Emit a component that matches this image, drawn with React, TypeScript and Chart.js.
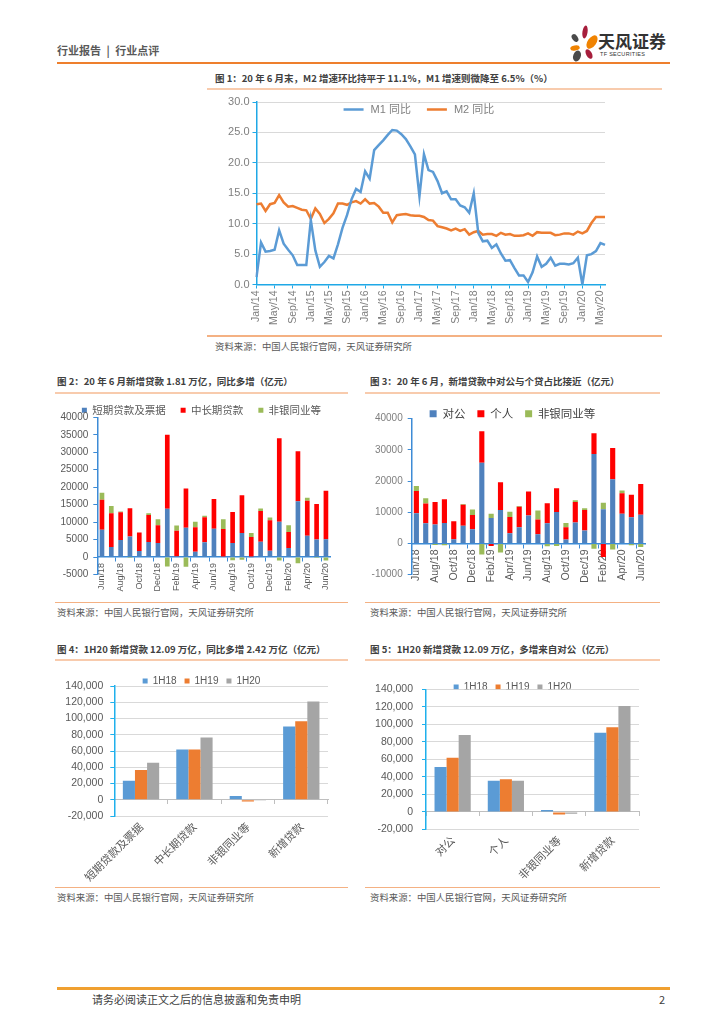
import React, { useEffect, useRef } from 'react';
import { Chart, registerables } from 'chart.js';

Chart.register(...registerables);

const LATIN = "'Liberation Sans', 'Noto Sans CJK SC', sans-serif";
const CJK = "'Noto Sans CJK SC', 'Liberation Sans', sans-serif";
Chart.defaults.font.family = LATIN;

// ---------------- Chart 1: M1 / M2 yoy ----------------
const MONTH_NAMES = ['Jan', 'Feb', 'Mar', 'Apr', 'May', 'Jun', 'Jul', 'Aug', 'Sep', 'Oct', 'Nov', 'Dec'];
const YEAR_SUFFIXES = ['14', '15', '16', '17', '18', '19', '20'];
const M_CATEGORIES = YEAR_SUFFIXES.flatMap((y) => MONTH_NAMES.map((m) => `${m}/${y}`)).slice(0, 78);
const M1_YOY = [
  1.2, 6.9, 5.4, 5.5, 5.7, 8.9, 6.7, 5.7, 4.8, 3.2, 3.2, 3.2,
  10.6, 5.6, 2.9, 3.7, 4.7, 4.3, 6.6, 9.3, 11.4, 14.0, 15.7, 15.2,
  18.6, 17.4, 22.1, 22.9, 23.7, 24.6, 25.4, 25.3, 24.7, 23.9, 22.7, 21.4,
  14.5, 21.4, 18.8, 18.5, 17.0, 15.0, 15.3, 14.0, 14.0, 13.0, 12.7, 11.8,
  15.0, 8.5, 7.1, 7.2, 6.0, 6.6, 5.1, 3.9, 4.0, 2.7, 1.5, 1.5,
  0.4, 2.0, 4.6, 2.9, 3.4, 4.4, 3.1, 3.4, 3.4, 3.3, 3.5, 4.4,
  0.0, 4.8, 5.0, 5.5, 6.8, 6.5,
];
const M2_YOY = [
  13.2, 13.3, 12.1, 13.2, 13.4, 14.7, 13.5, 12.8, 12.9, 12.6, 12.3, 12.2,
  10.8, 12.5, 11.6, 10.1, 10.8, 11.7, 13.3, 13.3, 13.1, 13.5, 13.7, 13.3,
  14.0, 13.3, 13.4, 12.8, 11.8, 11.8, 10.2, 11.4, 11.5, 11.6, 11.4, 11.3,
  11.3, 11.1, 10.6, 10.5, 9.6, 9.4, 9.2, 8.9, 9.2, 8.8, 9.1, 8.2,
  8.6, 8.8, 8.2, 8.3, 8.3, 8.0, 8.5, 8.2, 8.3, 8.0, 8.0, 8.1,
  8.4, 8.0, 8.6, 8.5, 8.5, 8.5, 8.1, 8.2, 8.4, 8.4, 8.2, 8.7,
  8.4, 8.8, 10.1, 11.1, 11.1, 11.1,
];
const M_SERIES_NAMES = ['M1 同比', 'M2 同比'];

// ---------------- Chart 2 / 3: monthly new loans ----------------
const LOAN_MONTHS = [
  'Jun/18', 'Jul/18', 'Aug/18', 'Sep/18', 'Oct/18', 'Nov/18', 'Dec/18',
  'Jan/19', 'Feb/19', 'Mar/19', 'Apr/19', 'May/19', 'Jun/19', 'Jul/19', 'Aug/19', 'Sep/19', 'Oct/19', 'Nov/19', 'Dec/19',
  'Jan/20', 'Feb/20', 'Mar/20', 'Apr/20', 'May/20', 'Jun/20',
];
const SHORT_AND_BILLS = [7800, 2900, 4900, 5900, 1700, 4300, 4000, 13800, 200, 8400, 1500, 4200, 8100, 0, 4000, 6900, -200, 4400, 1800, 10100, 2600, 16000, 6100, 5000, 5100];
const MEDIUM_LONG = [8600, 9600, 7900, 8100, 5300, 7700, 5100, 21200, 7300, 11200, 7000, 7200, 8500, 8000, 8900, 10800, 5700, 8800, 8700, 23900, 4600, 14300, 10000, 10200, 13900];
const NONBANK_A = [2000, 2100, 200, -300, 0, 500, 1700, -2700, 1500, -2800, 1600, 400, 0, 2800, -900, -800, 1200, 700, 800, -1000, 1900, -1800, 900, -300, -1000];
const LOAN_TYPE_NAMES = ['短期贷款及票据', '中长期贷款', '非银同业等'];

const CORPORATE = [9700, 6500, 6100, 6600, 1400, 5700, 4600, 25900, 8200, 10700, 3300, 5200, 9000, 3000, 6500, 10100, 1300, 6700, 4200, 28700, 11000, 20600, 9500, 8400, 9200];
const PERSONAL = [7100, 6300, 7200, 7600, 5700, 6700, 4500, 10100, -800, 8900, 5200, 6600, 7700, 4700, 6400, 7600, 3900, 6600, 6500, 6600, -4300, 10000, 6600, 7200, 9900];
const NONBANK_B = [1600, 1700, -500, -600, 0, 300, 1800, -3500, 1300, -2900, 1700, 200, 0, 2900, -900, -800, 1400, 600, 600, -1700, 2100, -1900, 900, -600, -1100];
const BORROWER_NAMES = ['对公', '个人', '非银同业等'];

// ---------------- Chart 4 / 5: half-year totals ----------------
const HALF_YEARS = ['1H18', '1H19', '1H20'];
const CATS_A = ['短期贷款及票据', '中长期贷款', '非银同业等', '新增贷款'];
const A_1H18 = [23400, 62000, 4500, 90300];
const A_1H19 = [36500, 62000, -2000, 96700];
const A_1H20 = [45500, 76500, -1000, 120900];
const CATS_B = ['对公', '个人', '非银同业等', '新增贷款'];
const B_1H18 = [51300, 35700, 2300, 90300];
const B_1H19 = [62000, 37300, -3000, 96700];
const B_1H20 = [87800, 35500, -2000, 120900];

// ---------------- styles ----------------
const AX1 = '#1FA8E6';
const AX2 = '#3D8BD6';
const AX4 = '#1FB0EC';
const GRID = '#D9D9D9';
const CLEAR = 'rgba(0,0,0,0)';

function ChartCanvas({ left, top, width, height, build }: { left: number; top: number; width: number; height: number; build: () => any }) {
  const ref = useRef<HTMLCanvasElement>(null);
  useEffect(() => {
    const chart = new Chart(ref.current as HTMLCanvasElement, build());
    return () => chart.destroy();
  }, []);
  return <canvas ref={ref} width={width} height={height} style={{ position: 'absolute', left, top, width, height }} />;
}

// legend drawn inside the plot area (the reference puts it over the top of the plot)
const inlineLegendPlugin = {
  id: 'inlineLegend',
  afterDraw(chart: any) {
    const { ctx, chartArea } = chart;
    const sets = chart.data.datasets;
    ctx.save();
    ctx.font = `11px ${LATIN}`;
    ctx.textBaseline = 'middle';
    ctx.textAlign = 'left';
    const lineW = 20;
    const gapText = 7;
    const gapItem = 16;
    const widths = sets.map((d: any) => lineW + gapText + ctx.measureText(d.label).width);
    const total = widths.reduce((a: number, b: number) => a + b, 0) + gapItem * (sets.length - 1);
    let x = chartArea.left + (chartArea.right - chartArea.left) * 0.466 - total / 2;
    const y = chartArea.top + 7.5;
    sets.forEach((d: any, i: number) => {
      ctx.strokeStyle = d.borderColor;
      ctx.lineWidth = d.borderWidth;
      ctx.beginPath();
      ctx.moveTo(x, y);
      ctx.lineTo(x + lineW, y);
      ctx.stroke();
      ctx.fillStyle = '#7F7F7F';
      ctx.fillText(d.label, x + lineW + gapText, y);
      x += widths[i] + gapItem;
    });
    ctx.restore();
  },
};

function buildChart1() {
  return {
    type: 'line',
    data: {
      labels: M_CATEGORIES,
      datasets: [
        { label: M_SERIES_NAMES[0], data: M1_YOY, borderColor: '#5B9BD5', backgroundColor: '#5B9BD5', borderWidth: 2.5, pointRadius: 0, tension: 0 },
        { label: M_SERIES_NAMES[1], data: M2_YOY, borderColor: '#ED7D31', backgroundColor: '#ED7D31', borderWidth: 2.5, pointRadius: 0, tension: 0 },
      ],
    },
    plugins: [inlineLegendPlugin],
    options: {
      animation: false,
      responsive: false,
      layout: { padding: { top: 12, right: 15, left: 0, bottom: 0 } },
      plugins: { tooltip: { enabled: false }, legend: { display: false } },
      scales: {
        x: {
          offset: false,
          border: { color: AX1, width: 1.5 },
          grid: { drawOnChartArea: false, tickLength: 4, tickColor: (c: any) => (c.index % 4 === 0 ? AX1 : CLEAR) },
          ticks: {
            autoSkip: false,
            minRotation: 90,
            maxRotation: 90,
            padding: 2,
            color: '#7F7F7F',
            font: { size: 10.5 },
            callback: (_v: any, i: number) => (i % 4 === 0 ? M_CATEGORIES[i] : ''),
          },
          afterFit: (s: any) => { s.height = 50.5; },
        },
        y: {
          min: 0,
          max: 30,
          border: { color: AX1, width: 1.5 },
          grid: { color: (c: any) => (c.tick && c.tick.value === 0 ? CLEAR : GRID), tickColor: AX1, tickLength: 4 },
          ticks: { stepSize: 5, padding: 3, color: '#7F7F7F', font: { size: 11 }, callback: (v: any) => Number(v).toFixed(1) },
          afterFit: (s: any) => { s.width = 56.5; },
        },
      },
    },
  };
}

// empty right-hand axis that only reserves space, so the legend stays centred on the canvas
function spacerAxis(w: number) {
  return {
    type: 'linear',
    position: 'right',
    display: true,
    grid: { display: false, drawTicks: false },
    border: { display: false },
    ticks: { display: false },
    afterFit: (s: any) => { s.width = w; },
  };
}

function buildStacked(opts: {
  names: string[]; series: number[][]; colors: string[]; yMin: number; yStep: number; right: number; padBottom: number;
  yWidth: number; legendMax: number; legendPad: number; legendFont: number; legendBox: number; legendColor: string;
  yColor: string; xFont: number; barPct: number;
}) {
  return {
    type: 'bar',
    data: {
      labels: LOAN_MONTHS,
      datasets: opts.series.map((d, i) => ({ label: opts.names[i], data: d, backgroundColor: opts.colors[i], borderWidth: 0, yAxisID: 'y' })),
    },
    options: {
      animation: false,
      responsive: false,
      layout: { padding: { left: 0, right: 0, top: 0, bottom: opts.padBottom } },
      datasets: { bar: { categoryPercentage: 1, barPercentage: opts.barPct } },
      plugins: {
        tooltip: { enabled: false },
        legend: {
          position: 'top',
          maxHeight: opts.legendMax,
          labels: {
            boxWidth: opts.legendBox,
            boxHeight: opts.legendBox,
            padding: opts.legendPad,
            color: opts.legendColor,
            font: { size: opts.legendFont, family: CJK },
          },
        },
      },
      scales: {
        x: {
          stacked: true,
          position: { y: 0 },
          offset: true,
          border: { color: AX2, width: 1.5 },
          grid: { offset: true, drawOnChartArea: false, tickLength: 4, tickColor: (c: any) => (c.index % 2 === 0 ? AX2 : CLEAR) },
          ticks: {
            autoSkip: false,
            minRotation: 90,
            maxRotation: 90,
            padding: 2,
            color: '#595959',
            font: { size: opts.xFont },
            callback: (_v: any, i: number) => (i % 2 === 0 ? LOAN_MONTHS[i] : ''),
          },
        },
        y: {
          stacked: true,
          min: opts.yMin,
          max: 40000,
          border: { color: AX2, width: 1.5 },
          grid: { drawOnChartArea: false, tickLength: 4, tickColor: AX2 },
          ticks: { stepSize: opts.yStep, padding: 5, color: opts.yColor, font: { size: 10 }, callback: (v: any) => String(v) },
          afterFit: (s: any) => { s.width = opts.yWidth; },
        },
        yR: spacerAxis(opts.right),
      },
    },
  };
}

function buildGrouped(opts: {
  cats: string[]; series: number[][]; right: number; yWidth: number; xHeight: number; legendMax: number; yPad: number;
}) {
  const colors = ['#5B9BD5', '#ED7D31', '#A5A5A5'];
  return {
    type: 'bar',
    data: {
      labels: opts.cats,
      datasets: opts.series.map((d, i) => ({ label: HALF_YEARS[i], data: d, backgroundColor: colors[i], borderWidth: 0, xAxisID: 'x', yAxisID: 'y' })),
    },
    options: {
      animation: false,
      responsive: false,
      layout: { padding: { left: 0, right: 0, top: 0, bottom: 0 } },
      datasets: { bar: { categoryPercentage: 0.68, barPercentage: 1 } },
      plugins: {
        tooltip: { enabled: false },
        legend: {
          position: 'top',
          maxHeight: opts.legendMax,
          labels: { boxWidth: 5, boxHeight: 5, padding: 8, color: '#595959', font: { size: 10 } },
        },
      },
      scales: {
        x: {
          position: 'bottom',
          border: { display: false },
          grid: { display: false, drawTicks: false },
          ticks: { autoSkip: false, minRotation: 45, maxRotation: 45, padding: 4, color: '#595959', font: { size: 11, family: CJK } },
          afterFit: (s: any) => { s.height = opts.xHeight; },
        },
        x2: {
          type: 'category',
          position: { y: 0 },
          offset: true,
          border: { color: '#BFBFBF', width: 1 },
          grid: { offset: true, drawOnChartArea: false, tickLength: 4, tickColor: '#BFBFBF' },
          ticks: { display: false },
        },
        y: {
          min: -20000,
          max: 140000,
          border: { color: AX4, width: 1.5 },
          grid: { color: GRID, tickColor: AX4, tickLength: 4 },
          ticks: { stepSize: 20000, padding: opts.yPad, color: '#595959', font: { size: 10.5 }, callback: (v: any) => Number(v).toLocaleString('en-US') },
          afterFit: (s: any) => { s.width = opts.yWidth; },
        },
        yR: spacerAxis(opts.right),
      },
    },
  };
}

function Txt({ x, y, size, children, color = '#595959', weight = 400, lh }: { x: number; y: number; size: number; children: any; color?: string; weight?: number; lh: number }) {
  return (
    <div style={{ position: 'absolute', left: x, top: y - lh / 2, fontSize: size, lineHeight: `${lh}px`, color, fontWeight: weight, fontFamily: CJK, whiteSpace: 'nowrap' }}>
      {children}
    </div>
  );
}

function Line({ x, y, w, h, c }: { x: number; y: number; w: number; h: number; c: string }) {
  return <div style={{ position: 'absolute', left: x, top: y, width: w, height: h, background: c }} />;
}

const TITLE_C = '#404040';
const PEACH = '#F8CBAD';
const ORANGE_LINE = '#F4B183';
const SOURCE = '资料来源：中国人民银行官网，天风证券研究所';

export default function App() {
  return (
    <div style={{ position: 'absolute', left: 0, top: 0, width: 724, height: 1024, background: '#fff', overflow: 'hidden' }}>
      {/* header */}
      <Txt x={57} y={50} size={11} weight={700} lh={14} color="#595959">行业报告{'\u2002'}|{'\u2002'}行业点评</Txt>
      <Line x={57} y={62} w={613} h={2} c="#EE7F2D" />
      <svg style={{ position: 'absolute', left: 567, top: 25 }} width={32} height={38} viewBox="0 0 32 38">
        <ellipse cx="18" cy="7" rx="2.6" ry="6.5" fill="#A61E3C" transform="rotate(8 18 7)" />
        <ellipse cx="8" cy="13" rx="2.8" ry="4.3" fill="#4A4A4A" transform="rotate(-35 8 13)" />
        <ellipse cx="25" cy="17" rx="4.3" ry="7.5" fill="#F08300" transform="rotate(35 25 17)" />
        <ellipse cx="8" cy="23" rx="4.8" ry="2.5" fill="#F08300" transform="rotate(-10 8 23)" />
        <ellipse cx="22" cy="29" rx="2.8" ry="5.2" fill="#A61E3C" transform="rotate(-30 22 29)" />
        <ellipse cx="10" cy="31" rx="3.8" ry="5.6" fill="#4A4A4A" transform="rotate(20 10 31)" />
      </svg>
      <Txt x={598} y={41} size={17} weight={700} lh={20} color="#333333">天风证券</Txt>
      <div style={{ position: 'absolute', left: 600, top: 51, fontSize: 5.5, lineHeight: '7px', color: '#333', fontFamily: LATIN, letterSpacing: 0.3 }}>TF SECURITIES</div>

      {/* chart 1 */}
      <Txt x={215} y={78} size={9.5} weight={700} lh={12} color={TITLE_C}>图 1：20 年 6 月末，M2 增速环比持平于 11.1%，M1 增速则微降至 6.5%（%）</Txt>
      <Line x={207} y={88} w={455} h={2} c={PEACH} />
      <ChartCanvas left={200} top={90} width={420} height={245} build={buildChart1} />
      <Line x={207} y={335} w={455} h={1.5} c={ORANGE_LINE} />
      <Txt x={215} y={346} size={9.4} lh={12}>{SOURCE}</Txt>

      {/* chart 2 */}
      <Txt x={57} y={381} size={9.5} weight={700} lh={12} color={TITLE_C}>图 2：20 年 6 月新增贷款 1.81 万亿，同比多增（亿元）</Txt>
      <Line x={55} y={392} w={293} h={2} c={PEACH} />
      <ChartCanvas
        left={55}
        top={390}
        width={293}
        height={210}
        build={() =>
          buildStacked({
            names: LOAN_TYPE_NAMES, series: [SHORT_AND_BILLS, MEDIUM_LONG, NONBANK_A], colors: ['#4F81BD', '#FF0000', '#9BBB59'],
            yMin: -5000, yStep: 5000, right: 17.4, padBottom: 25.5, yWidth: 42.3, legendMax: 27.3, legendPad: 15, legendFont: 10.5,
            legendBox: 5, legendColor: '#595959', yColor: '#595959', xFont: 9, barPct: 0.5,
          })
        }
      />
      <Line x={55} y={601.5} w={293} h={1.5} c={ORANGE_LINE} />
      <Txt x={57} y={612} size={9.4} lh={12}>{SOURCE}</Txt>

      {/* chart 3 */}
      <Txt x={370} y={381} size={9.5} weight={700} lh={12} color={TITLE_C}>图 3：20 年 6 月，新增贷款中对公与个贷占比接近（亿元）</Txt>
      <Line x={365} y={392} w={295} h={2} c={PEACH} />
      <ChartCanvas
        left={365}
        top={396}
        width={295}
        height={204}
        build={() =>
          buildStacked({
            names: BORROWER_NAMES, series: [CORPORATE, PERSONAL, NONBANK_B], colors: ['#4F81BD', '#FF0000', '#9BBB59'],
            yMin: -10000, yStep: 10000, right: 14.6, padBottom: 25.3, yWidth: 46.7, legendMax: 22.7, legendPad: 12, legendFont: 11.5,
            legendBox: 7, legendColor: '#404040', yColor: '#7F7F7F', xFont: 10.5, barPct: 0.55,
          })
        }
      />
      <Line x={365} y={601.5} w={295} h={1.5} c={ORANGE_LINE} />
      <Txt x={370} y={612} size={9.4} lh={12}>{SOURCE}</Txt>

      {/* chart 4 */}
      <Txt x={57} y={649} size={9.5} weight={700} lh={12} color={TITLE_C}>图 4：1H20 新增贷款 12.09 万亿，同比多增 2.42 万亿（亿元）</Txt>
      <Line x={55} y={659} w={293} h={2} c={PEACH} />
      <ChartCanvas
        left={55}
        top={668}
        width={293}
        height={218}
        build={() => buildGrouped({ cats: CATS_A, series: [A_1H18, A_1H19, A_1H20], right: 20, yWidth: 59.3, xHeight: 70, legendMax: 18, yPad: 7 })}
      />
      <Line x={55} y={886.5} w={293} h={1.5} c={ORANGE_LINE} />
      <Txt x={57} y={897} size={9.4} lh={12}>{SOURCE}</Txt>

      {/* chart 5 */}
      <Txt x={370} y={649} size={9.5} weight={700} lh={12} color={TITLE_C}>图 5：1H20 新增贷款 12.09 万亿，多增来自对公（亿元）</Txt>
      <Line x={365} y={659} w={295} h={2} c={PEACH} />
      <ChartCanvas
        left={365}
        top={674}
        width={295}
        height={212}
        build={() => buildGrouped({ cats: CATS_B, series: [B_1H18, B_1H19, B_1H20], right: 21, yWidth: 61, xHeight: 56.5, legendMax: 15.3, yPad: 9 })}
      />
      <Line x={365} y={886.5} w={295} h={1.5} c={ORANGE_LINE} />
      <Txt x={370} y={897} size={9.4} lh={12}>{SOURCE}</Txt>

      {/* footer */}
      <Line x={57} y={987} w={613} h={2.5} c="#F0A030" />
      <Txt x={92} y={999} size={11} lh={14} color="#404040">请务必阅读正文之后的信息披露和免责申明</Txt>
      <Txt x={659} y={999} size={11} lh={14} color="#404040">2</Txt>
    </div>
  );
}
